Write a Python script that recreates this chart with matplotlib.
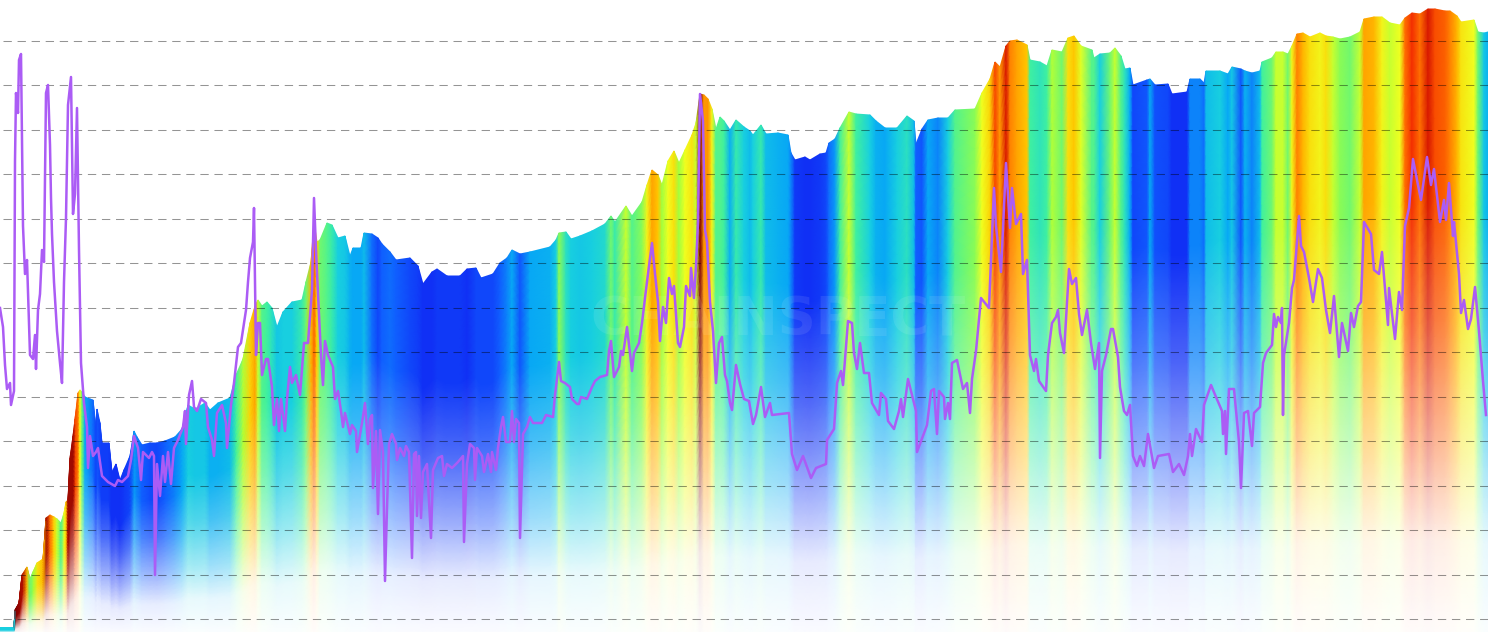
import numpy as np
import matplotlib
matplotlib.use('Agg')
import matplotlib.pyplot as plt
from matplotlib.colors import LinearSegmentedColormap

# =============================
# 1. DATA
# =============================

# Columns of the heat area: position, height of the top, colour level 0-1
bar_x = [0, 14, 15, 19, 22, 27, 30, 33, 37, 43, 46, 50, 54, 57, 61, 64, 66, 68, 70, 73,
         75, 78, 80, 82, 85, 90, 93, 96, 97, 100, 102, 109, 112, 116, 120, 124, 130, 134, 137, 142,
         150, 157, 165, 175, 182, 188, 195, 205, 210, 218, 230, 236, 243, 250, 255, 258, 262, 267, 272, 277,
         283, 292, 302, 306, 311, 314, 317, 320, 327, 332, 338, 345, 350, 353, 361, 364, 372, 378, 382, 390,
         396, 410, 418, 423, 432, 437, 447, 460, 467, 476, 481, 493, 500, 507, 512, 520, 530, 550, 556, 559,
         566, 571, 580, 592, 605, 611, 615, 626, 632, 642, 647, 652, 658, 662, 668, 674, 679, 685, 692, 696,
         700, 704, 708, 712, 716, 720, 724, 730, 736, 744, 750, 753, 761, 766, 778, 788, 791, 795, 805, 810,
         820, 826, 829, 835, 840, 849, 856, 870, 876, 885, 897, 907, 914, 916, 922, 928, 938, 948, 955, 975,
         982, 990, 995, 1000, 1006, 1010, 1017, 1027, 1030, 1040, 1047, 1052, 1062, 1068, 1074, 1081, 1092, 1094, 1100, 1110,
         1115, 1121, 1125, 1130, 1133, 1147, 1150, 1155, 1168, 1172, 1187, 1190, 1200, 1204, 1206, 1220, 1228, 1232, 1241, 1245,
         1252, 1260, 1262, 1272, 1276, 1283, 1288, 1292, 1297, 1303, 1310, 1320, 1326, 1333, 1340, 1350, 1360, 1364, 1374, 1382,
         1390, 1400, 1405, 1412, 1420, 1428, 1435, 1445, 1450, 1457, 1461, 1474, 1478, 1484, 1488]
bar_top = [-8, -8, 10, 17, 45, 53, 41, 48, 57, 61, 102, 105, 103, 101, 97, 107, 118, 120, 162, 184,
           201, 227, 230, 228, 223, 221, 220, 193, 211, 197, 177, 177, 148, 156, 140, 150, 164, 189, 183, 175,
           177, 177, 179, 183, 191, 215, 211, 217, 210, 217, 222, 245, 261, 297, 314, 320, 314, 318, 312, 293,
           308, 318, 320, 338, 358, 398, 378, 380, 397, 395, 382, 384, 364, 372, 372, 387, 386, 382, 376, 368,
           360, 362, 354, 336, 348, 351, 344, 344, 351, 352, 342, 346, 357, 362, 370, 366, 368, 373, 380, 387,
           388, 381, 384, 389, 396, 404, 398, 414, 404, 418, 435, 450, 445, 435, 459, 469, 457, 470, 485, 497,
           526, 525, 521, 511, 491, 503, 499, 490, 500, 493, 489, 485, 495, 486, 487, 485, 467, 460, 463, 460,
           466, 467, 477, 481, 492, 508, 506, 505, 499, 492, 492, 504, 499, 476, 491, 500, 502, 502, 510, 511,
           527, 541, 558, 553, 574, 579, 580, 575, 560, 558, 554, 570, 568, 582, 584, 574, 570, 562, 566, 567,
           572, 564, 551, 552, 535, 540, 541, 535, 536, 526, 528, 541, 541, 537, 549, 549, 546, 553, 551, 549,
           547, 549, 558, 562, 568, 568, 566, 574, 586, 587, 583, 587, 584, 583, 581, 583, 588, 601, 603, 603,
           597, 595, 602, 607, 606, 611, 611, 609, 609, 604, 598, 600, 588, 587, 588]
bar_heat = [0.3, 0.3, 1.0, 0.97, 0.95, 0.72, 0.45, 0.5, 0.65, 0.72, 0.97, 0.8, 0.68, 0.55, 0.42, 0.6, 0.72, 0.97, 0.97, 0.97,
            0.85, 0.78, 0.6, 0.45, 0.2, 0.15, 0.12, 0.05, 0.08, 0.05, 0.03, 0.03, 0.0, 0.0, 0.0, 0.02, 0.05, 0.18, 0.15, 0.1,
            0.06, 0.05, 0.1, 0.15, 0.2, 0.3, 0.28, 0.28, 0.22, 0.22, 0.25, 0.4, 0.52, 0.68, 0.74, 0.55, 0.42, 0.4, 0.35, 0.28,
            0.3, 0.3, 0.38, 0.45, 0.72, 0.82, 0.68, 0.45, 0.42, 0.38, 0.3, 0.28, 0.22, 0.2, 0.2, 0.25, 0.12, 0.05, 0.1, 0.12,
            0.1, 0.05, 0.03, 0.0, 0.0, 0.02, 0.02, 0.02, 0.0, 0.05, 0.05, 0.05, 0.1, 0.15, 0.2, 0.08, 0.2, 0.22, 0.3, 0.48,
            0.35, 0.3, 0.28, 0.3, 0.33, 0.45, 0.38, 0.55, 0.42, 0.48, 0.62, 0.74, 0.7, 0.5, 0.6, 0.66, 0.5, 0.6, 0.65, 0.55,
            1.0, 0.75, 0.76, 0.62, 0.42, 0.42, 0.4, 0.22, 0.38, 0.3, 0.25, 0.3, 0.38, 0.25, 0.22, 0.2, 0.15, 0.02, 0.0, 0.0,
            0.02, 0.05, 0.12, 0.18, 0.4, 0.55, 0.4, 0.3, 0.22, 0.2, 0.3, 0.35, 0.25, 0.1, 0.08, 0.2, 0.15, 0.3, 0.42, 0.48,
            0.6, 0.68, 0.85, 0.75, 0.92, 0.78, 0.74, 0.7, 0.4, 0.36, 0.4, 0.52, 0.45, 0.66, 0.7, 0.58, 0.42, 0.42, 0.3, 0.45,
            0.55, 0.42, 0.35, 0.2, 0.05, 0.08, 0.2, 0.07, 0.05, 0.0, 0.0, 0.15, 0.15, 0.12, 0.25, 0.3, 0.2, 0.28, 0.08, 0.22,
            0.15, 0.25, 0.4, 0.45, 0.55, 0.55, 0.45, 0.62, 0.78, 0.72, 0.66, 0.62, 0.66, 0.55, 0.48, 0.45, 0.55, 0.74, 0.72, 0.62,
            0.55, 0.6, 0.8, 0.88, 0.8, 0.92, 0.84, 0.82, 0.78, 0.72, 0.65, 0.6, 0.45, 0.28, 0.22]

# Purple line
line_x = [0, 3, 5, 7, 10, 11, 14, 15, 16, 18, 19, 21, 23, 25, 27, 29, 30, 33, 35, 36,
          38, 40, 42, 44, 46, 48, 50, 51, 52, 54, 57, 60, 62, 64, 66, 68, 71, 73, 75, 77,
          79, 81, 84, 87, 88, 90, 93, 96, 98, 102, 108, 115, 118, 122, 128, 131, 134, 138, 141, 143,
          149, 152, 154, 155, 157, 160, 163, 165, 168, 171, 174, 178, 183, 185, 186, 189, 192, 194, 197, 201,
          206, 208, 212, 214, 217, 222, 226, 227, 231, 234, 238, 241, 246, 248, 250, 253, 254, 256, 258, 260,
          262, 266, 268, 272, 274, 277, 279, 281, 285, 287, 290, 292, 296, 300, 304, 308, 312, 314, 316, 318,
          321, 323, 325, 328, 333, 335, 338, 341, 343, 345, 350, 352, 356, 357, 362, 365, 368, 370, 372, 373,
          376, 378, 380, 383, 385, 387, 389, 392, 396, 397, 400, 404, 406, 409, 412, 414, 416, 417, 419, 421,
          423, 427, 431, 433, 438, 442, 444, 447, 452, 458, 463, 464, 467, 470, 474, 475, 477, 482, 484, 488,
          491, 492, 496, 498, 501, 503, 506, 510, 512, 514, 516, 519, 520, 523, 527, 530, 533, 542, 546, 553,
          555, 559, 561, 565, 570, 572, 577, 579, 581, 587, 592, 595, 600, 607, 609, 611, 614, 619, 621, 623,
          627, 632, 634, 639, 642, 645, 649, 652, 655, 658, 660, 663, 666, 669, 672, 674, 678, 680, 684, 686,
          690, 691, 694, 696, 698, 700, 703, 705, 707, 710, 713, 716, 719, 722, 725, 727, 730, 732, 736, 740,
          744, 749, 753, 756, 761, 765, 770, 772, 789, 792, 797, 803, 811, 816, 826, 827, 834, 837, 841, 843,
          848, 852, 854, 857, 860, 864, 869, 872, 879, 881, 886, 888, 894, 899, 901, 903, 908, 916, 917, 927,
          931, 934, 937, 939, 944, 945, 948, 950, 952, 957, 963, 967, 970, 972, 976, 981, 989, 994, 996, 1001,
          1006, 1010, 1012, 1016, 1021, 1023, 1027, 1030, 1034, 1036, 1039, 1046, 1048, 1052, 1056, 1058, 1060, 1064, 1069, 1072,
          1076, 1079, 1082, 1087, 1091, 1095, 1099, 1100, 1102, 1106, 1111, 1113, 1118, 1120, 1124, 1127, 1130, 1133, 1137, 1140,
          1144, 1148, 1154, 1158, 1169, 1173, 1179, 1184, 1188, 1190, 1192, 1196, 1202, 1204, 1211, 1216, 1222, 1223, 1225, 1226,
          1229, 1234, 1239, 1241, 1244, 1248, 1252, 1254, 1260, 1263, 1266, 1272, 1274, 1276, 1278, 1281, 1282, 1283, 1284, 1289,
          1292, 1294, 1299, 1301, 1304, 1309, 1313, 1318, 1322, 1326, 1330, 1334, 1339, 1342, 1348, 1351, 1354, 1358, 1361, 1364,
          1371, 1374, 1379, 1382, 1388, 1389, 1395, 1399, 1402, 1405, 1409, 1413, 1418, 1421, 1427, 1431, 1434, 1440, 1444, 1446,
          1449, 1453, 1454, 1459, 1461, 1464, 1468, 1471, 1475, 1479, 1483, 1486]
line_h = [312, 293, 255, 231, 237, 215, 229, 459, 527, 507, 560, 566, 394, 346, 360, 297, 265, 261, 285, 251,
          310, 326, 370, 358, 527, 535, 475, 422, 386, 338, 289, 257, 237, 338, 402, 515, 543, 406, 426, 512,
          370, 257, 217, 193, 152, 184, 164, 168, 172, 144, 138, 134, 140, 138, 144, 160, 184, 172, 140, 168,
          162, 168, 164, 45, 156, 124, 164, 138, 168, 136, 172, 180, 193, 209, 176, 225, 239, 213, 209, 221,
          217, 193, 180, 164, 207, 215, 197, 172, 215, 237, 273, 277, 310, 338, 362, 378, 412, 265, 297, 297,
          245, 261, 261, 233, 195, 221, 189, 221, 189, 221, 253, 237, 245, 225, 277, 277, 330, 422, 370, 326,
          265, 235, 279, 265, 253, 221, 229, 209, 193, 207, 186, 195, 189, 168, 197, 217, 176, 201, 205, 132,
          189, 106, 190, 168, 39, 112, 176, 186, 176, 160, 172, 164, 174, 168, 62, 166, 168, 104, 164, 102,
          148, 156, 82, 150, 162, 164, 144, 156, 152, 158, 164, 78, 156, 176, 172, 140, 172, 164, 148, 166,
          148, 168, 150, 172, 193, 203, 178, 178, 209, 178, 201, 197, 82, 186, 193, 203, 197, 197, 205, 203,
          225, 258, 239, 237, 233, 221, 216, 216, 223, 221, 233, 239, 243, 245, 269, 279, 243, 253, 269, 265,
          293, 249, 267, 277, 297, 322, 354, 377, 346, 318, 279, 313, 297, 342, 326, 334, 277, 273, 293, 334,
          324, 352, 322, 354, 398, 526, 499, 390, 378, 318, 289, 237, 277, 283, 245, 239, 217, 210, 255, 236,
          221, 219, 196, 205, 233, 203, 217, 205, 207, 166, 150, 164, 142, 152, 156, 180, 191, 237, 249, 235,
          299, 297, 267, 251, 277, 247, 247, 217, 205, 227, 221, 199, 191, 209, 221, 203, 241, 209, 168, 195,
          229, 231, 186, 229, 223, 201, 217, 201, 257, 260, 231, 237, 207, 241, 269, 322, 312, 432, 394, 348,
          457, 392, 432, 396, 406, 346, 360, 265, 249, 261, 239, 229, 265, 297, 303, 310, 287, 267, 351, 336,
          342, 306, 285, 310, 277, 251, 277, 162, 249, 265, 291, 291, 263, 233, 209, 205, 215, 164, 154, 164,
          154, 186, 152, 164, 166, 148, 156, 145, 164, 186, 164, 191, 178, 215, 235, 223, 209, 186, 209, 166,
          231, 231, 178, 132, 207, 209, 174, 207, 213, 257, 267, 275, 306, 293, 303, 297, 312, 205, 265, 297,
          332, 340, 404, 374, 368, 342, 318, 351, 342, 310, 287, 324, 263, 297, 269, 307, 293, 314, 318, 398,
          386, 350, 346, 368, 295, 332, 281, 328, 310, 394, 412, 461, 435, 420, 463, 435, 451, 398, 420, 400,
          437, 384, 398, 346, 307, 320, 291, 301, 333, 289, 239, 205]

grid_levels = np.arange(14) * 44.5 + 0.6
base = -12

# =============================
# 2. FIGURE
# =============================

fig = plt.figure(figsize=(14.88, 6.32), dpi=100)
ax = fig.add_axes([0, 0, 1, 1])
ax.set_xlim(0, 1488)
ax.set_ylim(base, 620)
ax.axis('off')

heat_cmap = LinearSegmentedColormap.from_list('heat', [
    '#1030F5', '#1060FF', '#08A8F5', '#18D0E0', '#40F0A0', '#A0FF40',
    '#F0FF20', '#FFC800', '#FF7000', '#F02000', '#800000'])

# Colour fades towards the bottom of each column, blended on white so the mesh has no seams
frac = np.linspace(0, 1, 41)
fade = np.interp(frac, [0, 0.15, 0.3, 0.5, 0.7, 1], [0.02, 0.1, 0.4, 0.75, 1, 1])

xs = np.asarray(bar_x, dtype=float)
tops = np.asarray(bar_top, dtype=float)
X = np.tile(xs, (len(frac), 1))
Y = base + np.outer(frac, tops - base)
rgb = heat_cmap(np.asarray(bar_heat))[:, :3]
mesh_colors = 1 - fade[:, None, None] * (1 - rgb[None, :, :])
ax.pcolormesh(X, Y, mesh_colors, shading='gouraud', antialiased=False, zorder=1)

# Faint watermark
ax.text(778, 300, 'CHAINSPECT', color='white', alpha=0.09, fontsize=38,
        fontweight='bold', ha='center', va='center', zorder=2)

ax.hlines(grid_levels, 3, 1488, colors='black', alpha=0.42, linewidth=0.75,
          linestyles=(0, (8, 5.5)), zorder=3)

ax.plot(line_x, line_h, color='#AB5CF5', linewidth=1.8, zorder=4, solid_joinstyle='round')

fig.savefig('out.png', dpi=100)
